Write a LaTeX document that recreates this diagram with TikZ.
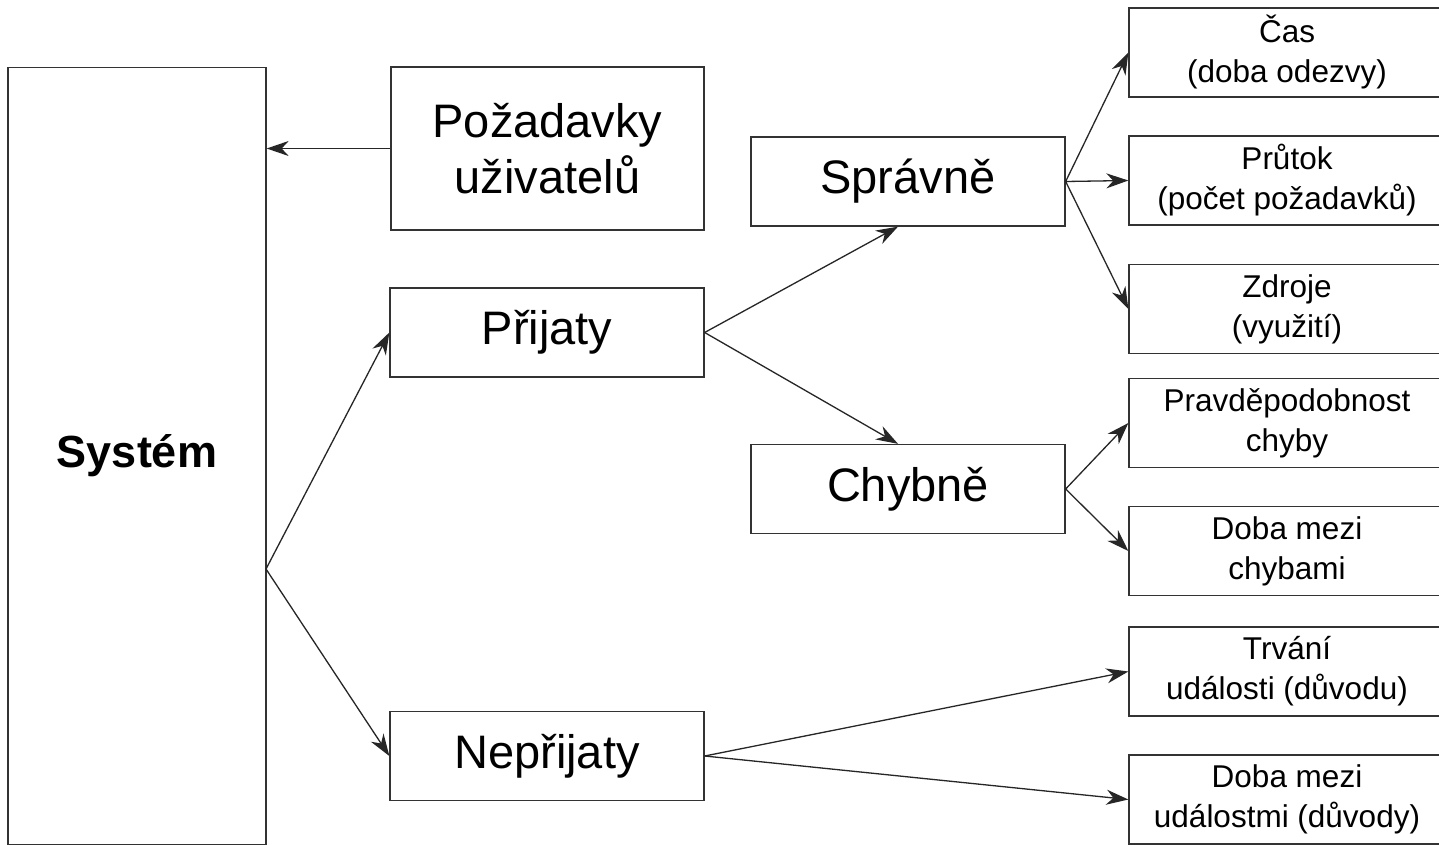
\documentclass[tikz,border=0pt]{standalone}
\usepackage{fontspec}
\setmainfont{Liberation Sans}
\usetikzlibrary{arrows.meta}
\begin{document}
\begin{tikzpicture}[x=1pt, y=-1pt,
  box/.style={draw=black!80, line width=1.3pt, fill=white, align=center, inner sep=0pt},
  bigbox/.style={box, minimum width=314pt, minimum height=89pt, font=\fontsize{47}{56}\selectfont},
  smallbox/.style={box, minimum width=316pt, minimum height=89pt, font=\fontsize{31.5}{40}\selectfont},
  link/.style={draw=black!85, line width=1.3pt, -{Stealth[length=22pt, width=15pt, inset=7pt]}}]
\clip (0,0) rectangle (1439,845);
\fill[white] (0,0) rectangle (1439,845);

% left column
\node[box, minimum width=258pt, minimum height=777pt, font=\fontsize{45}{52}\selectfont\bfseries] (sys) at (137,456) {Systém};

% middle column
\node[bigbox, minimum width=313pt, minimum height=163pt] (poz) at (547.5,148.5) {Požadavky\\uživatelů};
\node[bigbox] (prij) at (547,332.5) {Přijaty};
\node[bigbox] (neprij) at (547,756) {Nepřijaty};

\node[bigbox] (spr) at (908,181.5) {Správně};
\node[bigbox] (chyb) at (908,489) {Chybně};

% right column
\node[smallbox] (cas) at (1287,52.5) {Čas\\(doba odezvy)};
\node[smallbox] (prutok) at (1287,180.5) {Průtok\\(počet požadavků)};
\node[smallbox] (zdroje) at (1287,309) {Zdroje\\(využití)};
\node[smallbox] (pravd) at (1287,423) {Pravděpodobnost\\chyby};
\node[smallbox] (dobach) at (1287,551) {Doba mezi\\chybami};
\node[smallbox] (trvani) at (1287,671.5) {Trvání\\události (důvodu)};
\node[smallbox] (dobaud) at (1287,799.5) {Doba mezi\\událostmi (důvody)};

% connectors
\coordinate (sysout) at (266,569);
\path[link] (poz.west) -- (sys.east |- poz.west);
\path[link] (sysout) -- (prij.west);
\path[link] (sysout) -- (neprij.west);
\path[link] (prij.east) -- ([xshift=-10pt]spr.south);
\path[link] (prij.east) -- ([xshift=-10pt]chyb.north);
\path[link] (spr.east) -- (cas.west);
\path[link] (spr.east) -- (prutok.west);
\path[link] (spr.east) -- (zdroje.west);
\path[link] (chyb.east) -- (pravd.west);
\path[link] (chyb.east) -- (dobach.west);
\path[link] (neprij.east) -- (trvani.west);
\path[link] (neprij.east) -- (dobaud.west);
\end{tikzpicture}
\end{document}
